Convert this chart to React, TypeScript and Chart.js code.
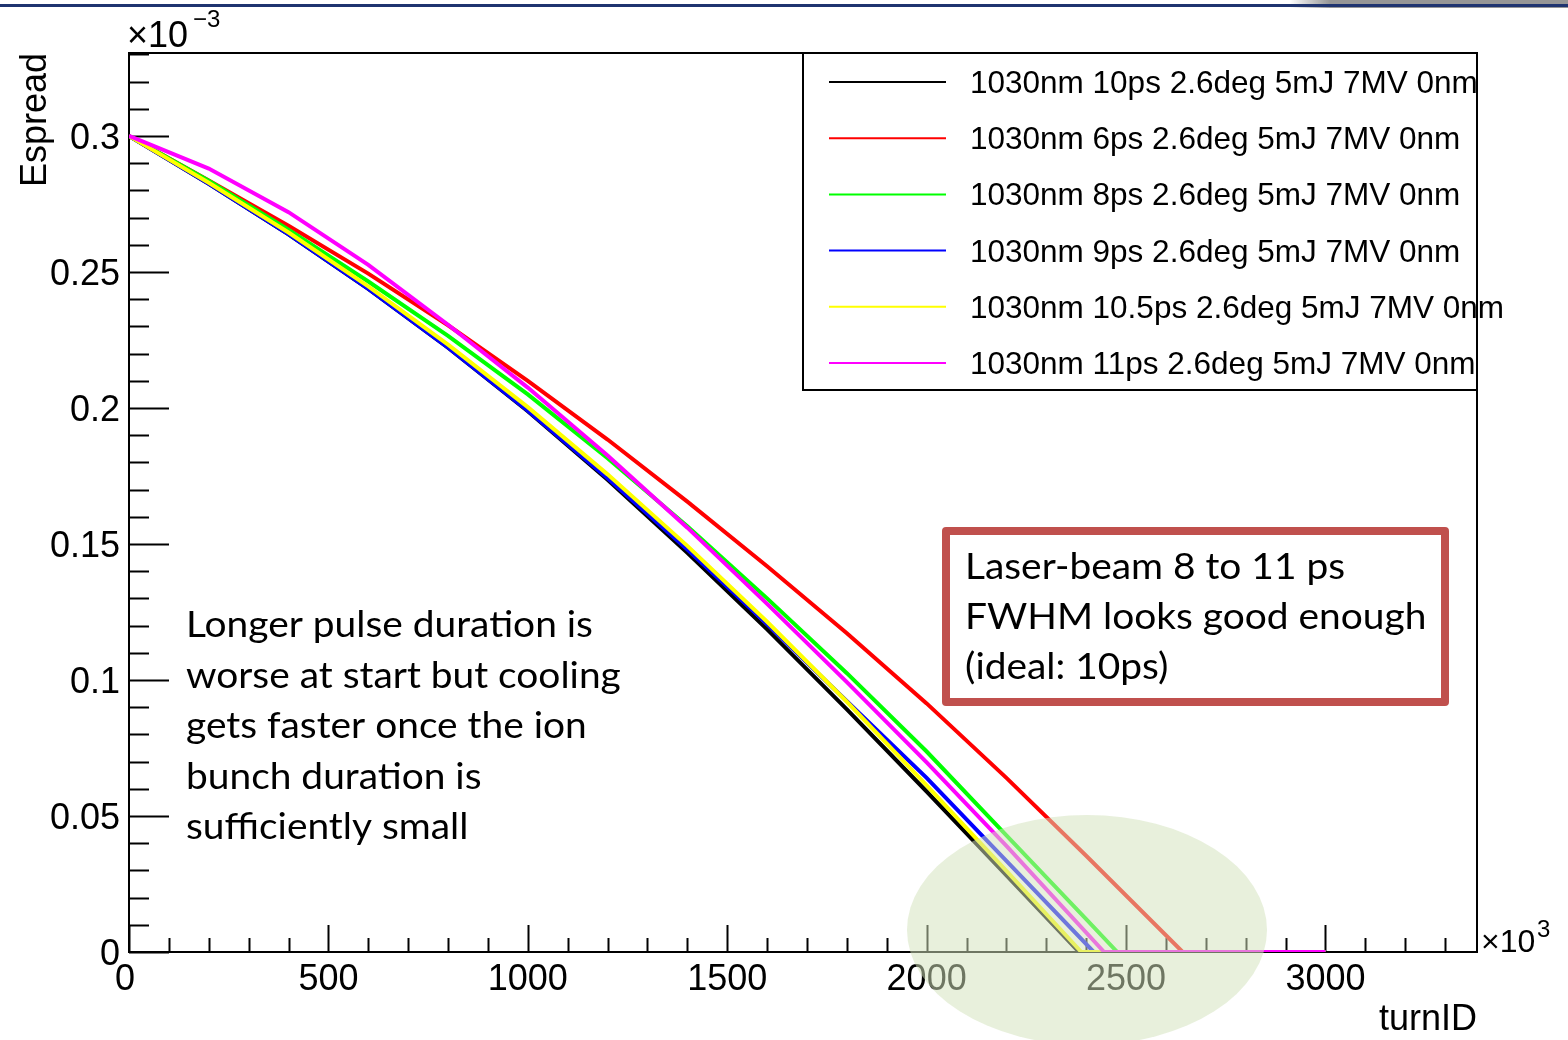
import React, { useEffect, useRef } from "react";
import { Chart, registerables } from "chart.js";

Chart.register(...registerables);

// ---------------- data (Espread in units of 1e-3, turnID in units of 1e3) ----------------
const seriesLabels = [
  "1030nm 10ps 2.6deg 5mJ 7MV 0nm",
  "1030nm 6ps 2.6deg 5mJ 7MV 0nm",
  "1030nm 8ps 2.6deg 5mJ 7MV 0nm",
  "1030nm 9ps 2.6deg 5mJ 7MV 0nm",
  "1030nm 10.5ps 2.6deg 5mJ 7MV 0nm",
  "1030nm 11ps 2.6deg 5mJ 7MV 0nm",
];
const seriesColors = ["#000000", "#ff0000", "#00ff00", "#0000ff", "#ffff00", "#ff00ff"];

const turns10ps = [0, 200, 400, 600, 800, 1000, 1200, 1400, 1600, 1800, 2000, 2200, 2382, 3000];
const espread10ps = [0.3, 0.2824, 0.2638, 0.2438, 0.2222, 0.1988, 0.1736, 0.1468, 0.1186, 0.0892, 0.059, 0.0282, 0, 0];

const turns6ps = [0, 200, 400, 600, 800, 1000, 1200, 1400, 1600, 1800, 2000, 2200, 2400, 2642, 3000];
const espread6ps = [0.3, 0.2836, 0.267, 0.2494, 0.2304, 0.21, 0.1884, 0.1656, 0.1418, 0.1172, 0.0914, 0.064, 0.0354, 0, 0];

const turns8ps = [0, 200, 400, 600, 800, 1000, 1200, 1400, 1600, 1800, 2000, 2200, 2400, 2478, 3000];
const espread8ps = [0.3, 0.2835, 0.2655, 0.2465, 0.2265, 0.205, 0.1815, 0.1565, 0.13, 0.1025, 0.0737, 0.0429, 0.0121, 0, 0];

const turns9ps = [0, 200, 400, 600, 800, 1000, 1200, 1400, 1600, 1800, 2000, 2200, 2419, 3000];
const espread9ps = [0.3, 0.2824, 0.2638, 0.2438, 0.2222, 0.199, 0.1742, 0.148, 0.1206, 0.0922, 0.064, 0.0335, 0, 0];

const turns10p5ps = [0, 200, 400, 600, 800, 1000, 1200, 1400, 1600, 1800, 2000, 2200, 2388, 3000];
const espread10p5ps = [0.3, 0.2828, 0.2645, 0.2447, 0.2233, 0.2003, 0.1756, 0.1493, 0.1214, 0.092, 0.0613, 0.0298, 0, 0];

const turns11ps = [0, 200, 400, 600, 800, 1000, 1200, 1400, 1600, 1800, 2000, 2200, 2445, 3000];
const espread11ps = [0.3, 0.288, 0.272, 0.2526, 0.2306, 0.2075, 0.1825, 0.156, 0.128, 0.0992, 0.0697, 0.039, 0, 0];

const seriesTurns = [turns10ps, turns6ps, turns8ps, turns9ps, turns10p5ps, turns11ps];
const seriesValues = [espread10ps, espread6ps, espread8ps, espread9ps, espread10p5ps, espread11ps];

const xMajorTicks = [0, 500, 1000, 1500, 2000, 2500, 3000];
const xTickLabels = ["0", "500", "1000", "1500", "2000", "2500", "3000"];
const yMajorTicks = [0, 0.05, 0.1, 0.15, 0.2, 0.25, 0.3];
const yTickLabels = ["0", "0.05", "0.1", "0.15", "0.2", "0.25", "0.3"];

const xMin = 0;
const xMax = 3380;
const yMin = 0;
const yMax = 0.3305;

const noteLeftLines = [
  "Longer pulse duration is",
  "worse at start but cooling",
  "gets faster once the ion",
  "bunch duration is",
  "sufficiently small",
];
const noteBoxLines = ["Laser-beam 8 to 11 ps", "FWHM looks good enough", "(ideal: 10ps)"];

// ---------------- styling ----------------
const ROOT_FONT = '"Liberation Sans", Arimo, Arial, Helvetica, sans-serif';
const NOTE_FONT = 'Lato, "Open Sans", sans-serif';

function stretchedText(ctx: CanvasRenderingContext2D, t: string, x: number, y: number, sx: number) {
  ctx.save();
  ctx.translate(x, y);
  ctx.scale(sx, 1);
  ctx.fillText(t, 0, 0);
  ctx.restore();
}

const axesPlugin = {
  id: "rootAxes",
  beforeDatasetsDraw(chart: any) {
    const { ctx, chartArea, scales } = chart;
    const { left, right, top, bottom } = chartArea;
    const xs = scales.x;
    const ys = scales.y;
    ctx.save();
    ctx.strokeStyle = "#000";
    ctx.lineWidth = 2;
    ctx.strokeRect(left, top, right - left, bottom - top);

    // y ticks (inward)
    for (let i = 0; i <= 33; i++) {
      const v = i * 0.01;
      if (v > yMax) break;
      const py = Math.round(ys.getPixelForValue(v)) + 0.5;
      const len = i % 5 === 0 ? 40 : 20;
      ctx.beginPath();
      ctx.moveTo(left, py);
      ctx.lineTo(left + len, py);
      ctx.stroke();
    }
    // x ticks (inward)
    for (let i = 0; i <= 33; i++) {
      const v = i * 100;
      if (v > xMax) break;
      const px = Math.round(xs.getPixelForValue(v)) + 0.5;
      const len = i % 5 === 0 ? 27 : 14;
      ctx.beginPath();
      ctx.moveTo(px, bottom);
      ctx.lineTo(px, bottom - len);
      ctx.stroke();
    }

    // tick labels
    ctx.fillStyle = "#000";
    ctx.font = `36px ${ROOT_FONT}`;
    ctx.textBaseline = "alphabetic";
    ctx.textAlign = "right";
    yMajorTicks.forEach((v, i) => {
      const py = ys.getPixelForValue(v);
      ctx.fillText(yTickLabels[i], left - 9, py + 13);
    });
    ctx.textAlign = "center";
    xMajorTicks.forEach((v, i) => {
      const px = xs.getPixelForValue(v);
      ctx.fillText(xTickLabels[i], px - (i === 0 ? 4 : 0), bottom + 38);
    });

    // exponent labels
    ctx.textAlign = "left";
    ctx.font = `36px ${ROOT_FONT}`;
    ctx.fillText("\u00d710", left - 2, top - 6);
    ctx.font = `24px ${ROOT_FONT}`;
    ctx.fillText("\u22123", left + 64, top - 26);

    ctx.font = `32px ${ROOT_FONT}`;
    ctx.fillText("\u00d710", right + 4, bottom);
    ctx.font = `24px ${ROOT_FONT}`;
    ctx.fillText("3", right + 60, bottom - 15);

    // axis titles
    ctx.font = `36px ${ROOT_FONT}`;
    ctx.textAlign = "right";
    ctx.fillText("turnID", right, bottom + 78);

    ctx.save();
    ctx.translate(46, top);
    ctx.rotate(-Math.PI / 2);
    ctx.textAlign = "right";
    ctx.fillText("Espread", 0, 0);
    ctx.restore();

    ctx.restore();
  },
  afterDraw(chart: any) {
    const { ctx, chartArea } = chart;
    const { right, top } = chartArea;
    ctx.save();

    // legend
    const lgLeft = 803;
    const lgTop = top;
    const lgW = right - lgLeft;
    const lgH = 337;
    ctx.fillStyle = "#fff";
    ctx.fillRect(lgLeft, lgTop, lgW, lgH);
    ctx.strokeStyle = "#000";
    ctx.lineWidth = 2;
    ctx.strokeRect(lgLeft, lgTop, lgW, lgH);
    ctx.font = `31.5px ${ROOT_FONT}`;
    ctx.textAlign = "left";
    ctx.textBaseline = "alphabetic";
    seriesLabels.forEach((lab, i) => {
      const cy = lgTop + 29 + i * 56.2;
      ctx.strokeStyle = seriesColors[i];
      ctx.lineWidth = 2;
      ctx.beginPath();
      ctx.moveTo(lgLeft + 26, cy);
      ctx.lineTo(lgLeft + 143, cy);
      ctx.stroke();
      ctx.fillStyle = "#000";
      ctx.fillText(lab, lgLeft + 167, cy + 11);
    });

    // left note
    ctx.fillStyle = "#000";
    ctx.font = `36px ${NOTE_FONT}`;
    noteLeftLines.forEach((t, i) => {
      stretchedText(ctx, t, 186, 637 + i * 50.5, 1.08);
    });

    // boxed note
    ctx.fillStyle = "#fff";
    ctx.fillRect(946, 531, 499, 171);
    ctx.strokeStyle = "#c0504d";
    ctx.lineWidth = 8;
    ctx.lineJoin = "round";
    ctx.strokeRect(946, 531, 499, 171);
    ctx.fillStyle = "#000";
    noteBoxLines.forEach((t, i) => {
      stretchedText(ctx, t, 965, 579 + i * 50, 1.08);
    });

    // highlight ellipse
    ctx.fillStyle = "rgba(211,226,188,0.52)";
    ctx.beginPath();
    ctx.ellipse(1087, 930, 180, 115, 0, 0, Math.PI * 2);
    ctx.fill();

    // slide header strip
    const g = ctx.createLinearGradient(1290, 0, 1330, 0);
    g.addColorStop(0, "rgba(150,150,150,0)");
    g.addColorStop(1, "rgba(150,150,150,1)");
    ctx.fillStyle = g;
    ctx.fillRect(1290, 0, 278, 8);
    ctx.fillStyle = "#1f3470";
    ctx.fillRect(0, 4, 1568, 3);

    ctx.restore();
  },
};

export default function App() {
  const ref = useRef<HTMLCanvasElement>(null);

  useEffect(() => {
    if (!ref.current) return;
    const datasets = seriesLabels.map((lab, i) => ({
      label: lab,
      data: seriesTurns[i].map((t, k) => ({ x: t, y: seriesValues[i][k] })),
      borderColor: seriesColors[i],
      backgroundColor: seriesColors[i],
      borderWidth: 4,
      pointRadius: 0,
      tension: 0,
      fill: false,
      order: seriesLabels.length - 1 - i,
    }));
    const chart = new Chart(ref.current, {
      type: "line",
      data: { datasets },
      options: {
        animation: false,
        responsive: false,
        maintainAspectRatio: false,
        devicePixelRatio: 1,
        layout: { padding: { left: 129, top: 53, right: 91, bottom: 88 } },
        plugins: { legend: { display: false }, tooltip: { enabled: false } },
        scales: {
          x: { type: "linear", min: xMin, max: xMax, display: false },
          y: { type: "linear", min: yMin, max: yMax, display: false },
        },
      },
      plugins: [axesPlugin],
    });
    return () => chart.destroy();
  }, []);

  return (
    <div style={{ position: "fixed", left: 0, top: 0, width: 1568, height: 1040, background: "#fff" }}>
      <canvas ref={ref} width={1568} height={1040} style={{ display: "block", width: 1568, height: 1040 }} />
    </div>
  );
}
